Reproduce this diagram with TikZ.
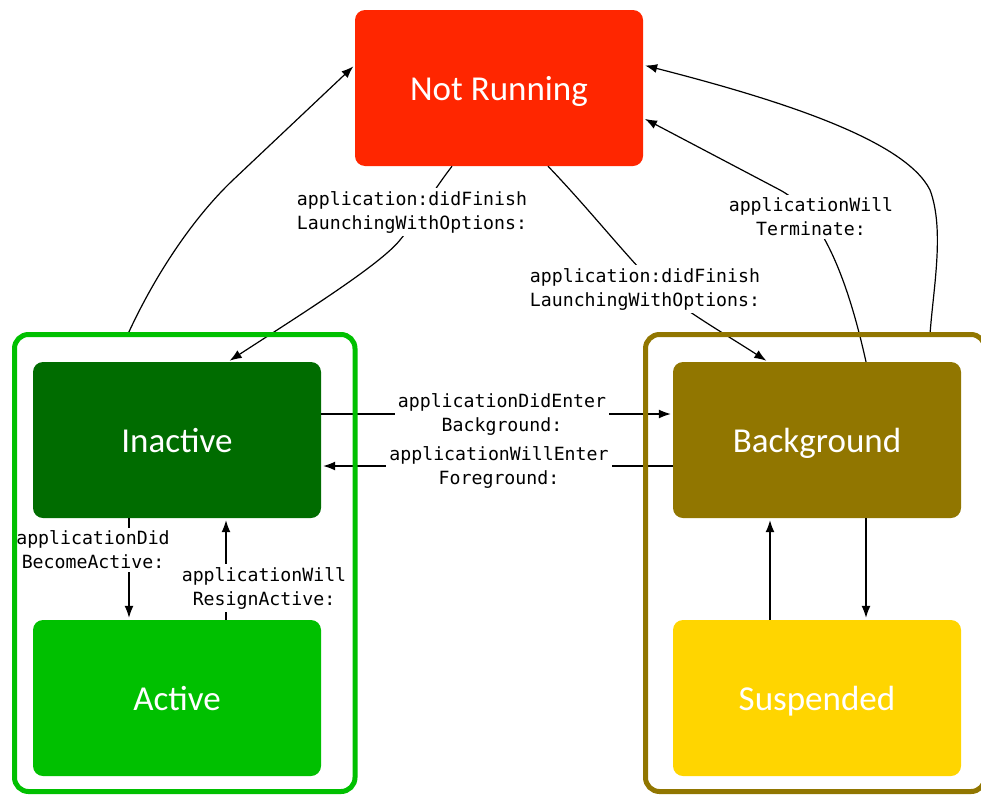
\documentclass[tikz,border=0pt]{standalone}
\usepackage{fontspec}
\setmainfont{Carlito}
\newfontfamily\labfont{DejaVu Sans Mono}
\usetikzlibrary{calc,arrows.meta}
\definecolor{nrred}{RGB}{255,38,0}
\definecolor{inactgreen}{RGB}{0,108,0}
\definecolor{actgreen}{RGB}{0,192,0}
\definecolor{bgbrown}{RGB}{145,118,0}
\definecolor{suspyellow}{RGB}{255,213,0}
\begin{document}
\begin{tikzpicture}[x=1pt,y=-1pt,
  stbox/.style={draw=none, fill=#1, rounded corners=10pt, minimum width=288pt,
    minimum height=156pt, text=white, font=\fontsize{35}{40}\selectfont, inner sep=0pt,
    text height=25pt, text depth=0pt},
  grparea/.style={inner sep=0pt, outer sep=0pt},
  grpline/.style={draw=#1, line width=5pt, rounded corners=14pt},
  edgelab/.style={fill=white, inner sep=3pt, align=center,
    font=\labfont\fontsize{18.2}{24}\selectfont},
  arr/.style={-{Latex[length=12pt,width=9pt]}, line width=1.2pt, shorten >=2pt}]
\useasboundingbox (0,0) rectangle (981,795);

% group areas (outlines drawn last)
\node[grparea, minimum width=340.5pt, minimum height=457pt] (fg) at (184.75,563) {};
\node[grparea, minimum width=339.5pt, minimum height=457pt] (bgbox) at (815.25,563) {};

% states
\node[stbox=nrred] (nr) at (499,88) {Not Running};
\node[stbox=inactgreen] (inact) at (177,440) {Inactive};
\node[stbox=actgreen] (act) at (177,698) {Active};
\node[stbox=bgbrown] (bgst) at (817,440) {Background};
\node[stbox=suspyellow] (susp) at (817,698) {Suspended};

% edges
\draw[arr] ($(fg.north)+(-57,0)$) .. controls (155,275) and (193,218) .. (233,180)
  -- ($(nr.west)+(0,-23)$);
\draw[arr] ($(nr.south)+(-47,0)$) .. controls (430,195) and (415,222) .. (400,240)
  .. controls (380,265) and (300,315) .. ($(inact.north)+(51,0)$);
\draw[arr] ($(nr.south)+(49,0)$) .. controls (590,210) and (625,255) .. (660,290)
  .. controls (690,314) and (725,334) .. ($(bgst.north)+(-49,0)$);
\draw[arr] ($(bgst.north)+(49,0)$) .. controls (850,290) and (825,214) .. (780,190)
  -- ($(nr.east)+(0,30)$);
\draw[arr] ($(bgbox.north)+(114.75,0)$) .. controls (933,290) and (945,230) .. (930,190)
  .. controls (905,140) and (780,100) .. ($(nr.east)+(0,-23)$);
\draw[arr] ($(inact.east)+(0,-26)$) -- ($(bgst.west)+(0,-26)$);
\draw[arr] ($(bgst.west)+(0,26)$) -- ($(inact.east)+(0,26)$);
\draw[arr] ($(inact.south)+(-48,0)$) -- ($(act.north)+(-48,0)$);
\draw[arr] ($(act.north)+(49,0)$) -- ($(inact.south)+(49,0)$);
\draw[arr] ($(susp.north)+(-47,0)$) -- ($(bgst.south)+(-47,0)$);
\draw[arr] ($(bgst.south)+(49,0)$) -- ($(susp.north)+(49,0)$);

% labels
\node[edgelab] (l2) at (412,212) {application:didFinish\\LaunchingWithOptions:};
\node[edgelab] (l3) at (645,289) {application:didFinish\\LaunchingWithOptions:};
\node[edgelab] (l4) at (811,217) {applicationWill\\Terminate:};
\node[edgelab] (l6) at (502,414) {applicationDidEnter\\Background:};
\node[edgelab] (l7) at (499,467) {applicationWillEnter\\Foreground:};
\node[edgelab] (l8) at (93,550) {applicationDid\\BecomeActive:};
\node[edgelab] (l9) at (264,588) {applicationWill\\ResignActive:};

% group outlines on top
\draw[grpline=actgreen] (fg.north west) rectangle (fg.south east);
\draw[grpline=bgbrown] (bgbox.north west) rectangle (bgbox.south east);
\end{tikzpicture}
\end{document}
